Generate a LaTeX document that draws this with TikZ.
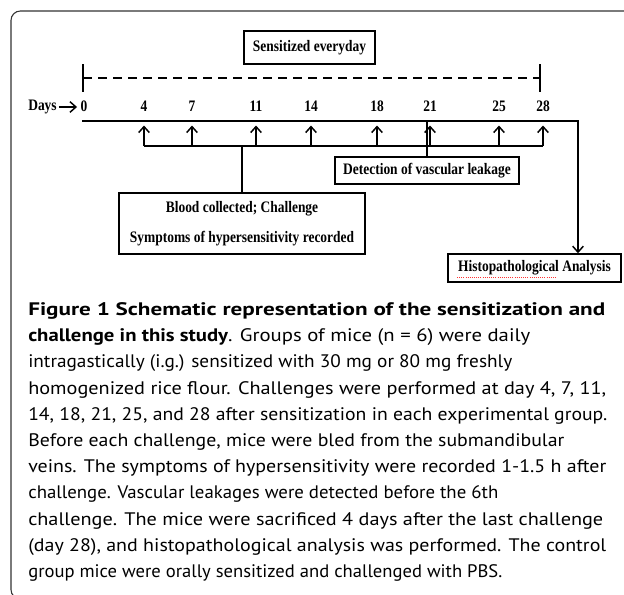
\documentclass[tikz,border=0pt]{standalone}
\usepackage{fontspec}
\usepackage{graphicx}
\setmainfont{Liberation Serif}
\newfontfamily\diafont[FakeStretch=0.84]{Liberation Serif}
\newfontfamily\capsans{PT Sans}
\usetikzlibrary{arrows.meta}

\tikzset{
  lbl/.style={font=\diafont\fontsize{12}{14}\selectfont\bfseries, inner sep=0pt},
  box/.style={lbl, draw, line width=1.1pt, align=center},
  thick line/.style={line width=1.1pt},
  up/.style={line width=1.1pt, -{Straight Barb[length=4.5pt,width=8pt]}},
  capline/.style={font=\capsans\fontsize{13.6}{15}\selectfont, anchor=base west, inner sep=0pt}
}

\begin{document}
\begin{tikzpicture}[x=0.75pt,y=-0.75pt]
          \useasboundingbox (0,0) rectangle (624,594);
          % frame round figure and caption
          \draw[black!80, line width=0.8pt, rounded corners=7pt] (650,11) -- (11,11) -- (11,599) -- (80,599);
          % sensitized everyday
          \node[box, minimum width=98.25pt, minimum height=24.75pt] (sens) at (309.5,47.5) {Sensitized everyday};
          \coordinate (s0) at (83,78);
          \coordinate (s28) at (540,78);
          \draw[line width=1pt, dash pattern=on 7pt off 4.25pt] (s0) -- (s28);
          \draw[thick line] (s0) ++(0,-14) -- ++(0,28)
          (s28) ++(0,-14) -- ++(0,28);
          % days
          \node[lbl] (days) at (42.5,107) {Days};
          \foreach \d/\x in {0/84,4/144,7/192,11/256,14/311,18/377,21/430,25/499,28/543}
            \node[lbl] (d\d) at (\x,106) {\d};
          \draw[up, shorten <=1.5pt, shorten >=2.5pt] (days) -- (days -| d0.west);
          % histopathological analysis
          \node[box, minimum width=129.75pt, minimum height=21pt] (histo) at (534.5,268) {Histopathological Analysis};
          \draw[red!80, densely dotted, line width=0.6pt] (457,277) -- (557,277);
          \coordinate (tl0) at (82,121);
          \coordinate (tlc) at (578,121);
          \draw[up] (tl0) -- (tlc) -- (tlc |- histo.north);
          % challenges
          \foreach \d in {4,7,11,14,18,21,25,28}{
            \coordinate (b\d) at (d\d |- 0,146);
            \draw[up] (b\d) -- (d\d |- 0,125.5);
          }
          \draw[thick line] (b4) -- (b28);
          \node[box, minimum width=184.5pt, minimum height=45.75pt, font=\diafont\fontsize{12}{22.5}\selectfont\bfseries] (blood) at (242,223.5) {Blood collected; Challenge\\Symptoms of hypersensitivity recorded};
          \draw[thick line] (blood.north |- b4) -- (blood.north);
          \node[box, minimum width=138pt, minimum height=20.25pt] (det) at (427,170.5) {Detection of vascular leakage};
          \draw[thick line] (det.north |- tl0) -- (det.north);
          % caption, one node per printed line (widths in pt)
          \foreach \i/\w/\t in {0/432.75/{\bfseries Figure 1 Schematic representation of the sensitization and},
            1/376.5/{{\bfseries challenge in this study}. Groups of mice (n = 6) were daily},
            2/363/{intragastically (i.g.) sensitized with 30 mg or 80 mg freshly},
            3/433.5/{homogenized rice flour. Challenges were performed at day 4, 7, 11,},
            4/434.25/{14, 18, 21, 25, and 28 after sensitization in each experimental group.},
            5/402/{Before each challenge, mice were bled from the submandibular},
            6/433.5/{veins. The symptoms of hypersensitivity were recorded 1-1.5 h after},
            7/352.5/{challenge. Vascular leakages were detected before the 6th},
            8/431.25/{challenge. The mice were sacrificed 4 days after the last challenge},
            9/433.5/{(day 28), and histopathological analysis was performed. The control},
            10/355.5/{group mice were orally sensitized and challenged with PBS.}}
            \node[capline] (cap\i) at (28,315.5+26.2*\i) {\resizebox{\w pt}{\height}{\t}};
        \end{tikzpicture}
\end{document}
